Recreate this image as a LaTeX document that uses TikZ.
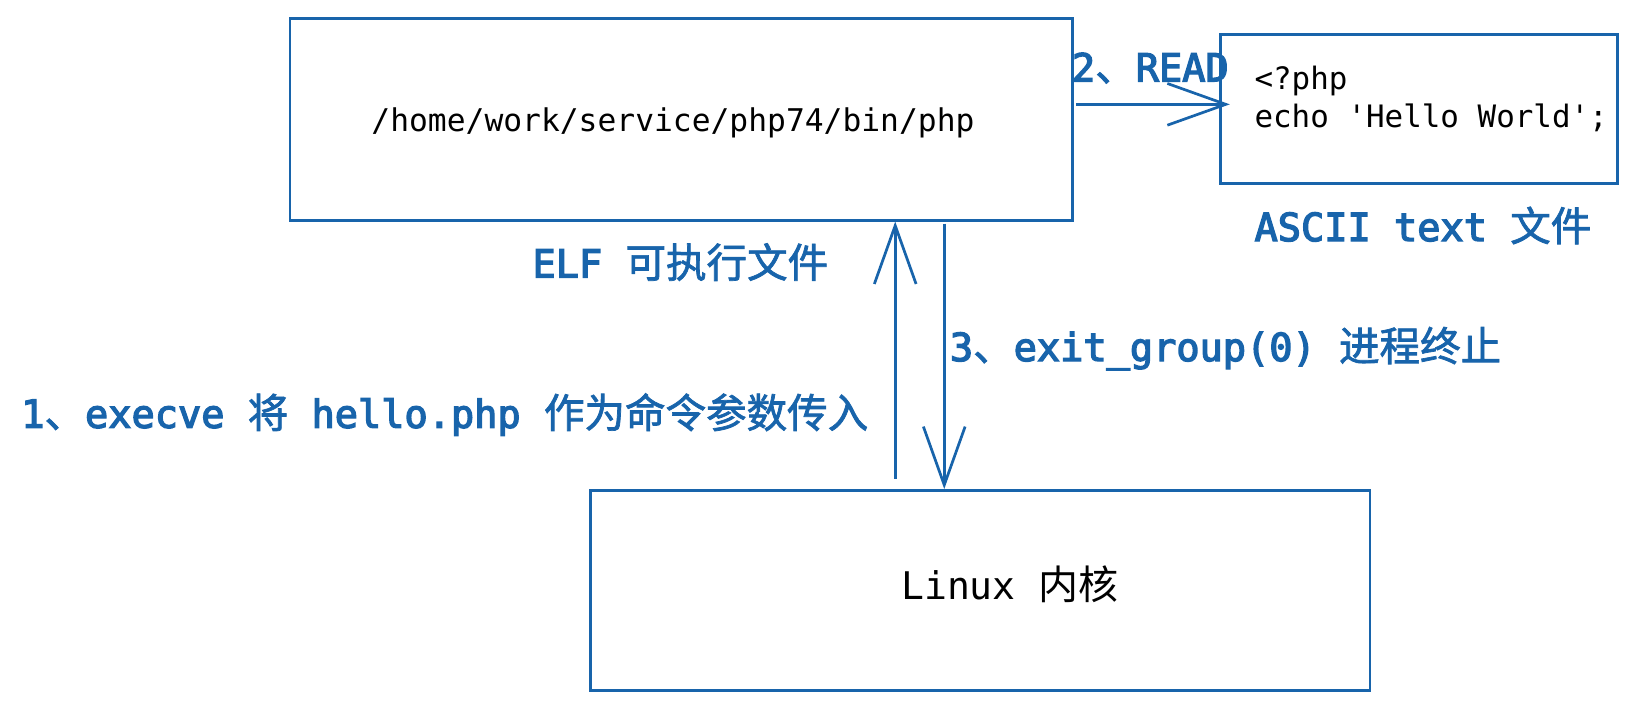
\documentclass[tikz,border=0pt]{standalone}
\usepackage{fontspec}
\setmonofont{DejaVu Sans Mono}
\newfontfamily\labfont{DejaVu Sans Mono}[FakeBold=3.5]
\newfontfamily\cjkfont{Noto Sans CJK SC}[Scale=1.05]
\newfontfamily\cjklabfont{Noto Sans CJK SC}[Scale=1.05,FakeBold=1.8]
\newcommand\zh[1]{{\cjkfont #1}}
\newcommand\zhl[1]{{\cjklabfont #1}}
\usetikzlibrary{arrows.meta}
\definecolor{sk}{HTML}{1864AB}
\tikzset{
  box/.style={draw=sk, line width=1.3pt, inner sep=0pt},
  lab/.style={text=sk, font=\labfont\fontsize{18.5}{22}\selectfont, inner sep=0pt, anchor=base west},
  codetxt/.style={text=black, inner sep=0pt},
  arr/.style={draw=sk, line width=1.3pt, -{Straight Barb[length=28pt,width=20pt,line width=1.3pt]}}
}
\begin{document}
\begin{tikzpicture}[x=0.5pt,y=-0.5pt]
\useasboundingbox (0,0) rectangle (1568,681.5);
% boxes
\node[box, minimum width=375pt, minimum height=96.5pt] (top) at (653,114.5) {};
\node[box, minimum width=190pt, minimum height=71.5pt] (src) at (1360,104.5) {};
\node[box, minimum width=373.5pt, minimum height=96pt] (linux) at (939.5,566) {};
% box texts
\node[codetxt, font=\ttfamily\fontsize{15}{18}\selectfont] (toptxt) at (645,118) {/home/work/service/php74/bin/php};
\node[codetxt, font=\ttfamily\fontsize{14.8}{18}\selectfont, align=left, anchor=west] (srctxt) at (1202,95) {<?php\\echo \char"27 Hello World\char"27 ;};
\node[codetxt, font=\ttfamily\fontsize{18.25}{22}\selectfont, anchor=base] (lintxt) at (968,575) {Linux \zh{内核}};
% labels
\node[lab] (l2) at (1027,78) {2\zhl{、}READ};
\node[lab] (lascii) at (1202,231) {ASCII text \zhl{文件}};
\node[lab] (lelf) at (510,266) {ELF \zhl{可执行文件}};
\node[lab] (l3) at (910,346) {3\zhl{、}exit\_group(0) \zhl{进程终止}};
\node[lab] (l1) at (20,410) {1\zhl{、}execve \zhl{将} hello.php \zhl{作为命令参数传入}};
% connectors
\coordinate (c1) at (858,0);
\coordinate (c3) at (905,0);
\coordinate (cr) at (0,100);
\draw[arr] ([yshift=5pt]c1 |- linux.north) -- (c1 |- top.south);
\draw[arr] ([yshift=-1pt]c3 |- top.south) -- (c3 |- linux.north);
\draw[arr] ([xshift=1pt]top.east |- cr) -- ([xshift=5pt]src.west |- cr);
\end{tikzpicture}
\end{document}
